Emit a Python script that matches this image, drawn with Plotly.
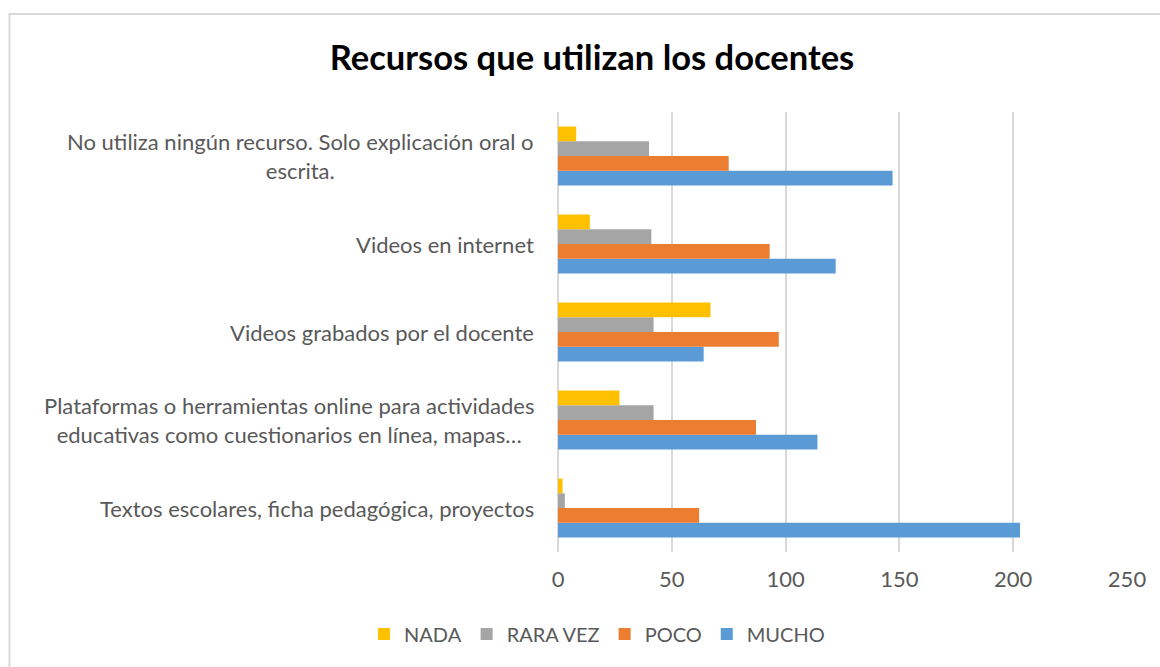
import plotly.graph_objects as go

categories = [
    "Textos escolares, ficha pedagógica, proyectos",
    "Plataformas o herramientas online para actividades<br>educativas como cuestionarios en línea, mapas…",
    "Videos grabados por el docente",
    "Videos en internet",
    "No utiliza ningún recurso. Solo explicación oral o<br>escrita.",
]
series_names = ["MUCHO", "POCO", "RARA VEZ", "NADA"]
mucho = [203, 114, 64, 122, 147]
poco = [62, 87, 97, 93, 75]
rara_vez = [3, 42, 42, 41, 40]
nada = [2, 27, 67, 14, 8]
x_ticks = [0, 50, 100, 150, 200, 250]

colors = {"MUCHO": "#5B9BD5", "POCO": "#ED7D31", "RARA VEZ": "#A5A5A5", "NADA": "#FFC000"}
values = {"MUCHO": mucho, "POCO": poco, "RARA VEZ": rara_vez, "NADA": nada}

font_family = "Lato, 'Open Sans', sans-serif"
L, R, T, B = 558, 33, 112, 115
W, H = 1160, 667
pw, ph = W - L - R, H - T - B

fig = go.Figure()
for name in series_names:
    fig.add_trace(go.Bar(
        y=categories, x=values[name], name=name, orientation="h",
        marker=dict(color=colors[name], line=dict(width=0)),
    ))

for c in categories:
    fig.add_annotation(
        x=0, xref="paper", xanchor="right", xshift=-22,
        y=c, yref="y", yanchor="middle", text=c, showarrow=False,
        align="center", font=dict(family=font_family, size=22, color="#595959"),
    )

fig.update_layout(
    width=W, height=H,
    barmode="group", bargap=0.33, bargroupgap=0,
    plot_bgcolor="white", paper_bgcolor="white",
    margin=dict(l=L, r=R, t=T, b=B, autoexpand=False),
    title=dict(text="<b>Recursos que utilizan los docentes</b>", x=592 / W, xref="container",
               xanchor="center", y=1 - 58 / H, yanchor="middle",
               font=dict(family=font_family, size=34.5, color="#000000")),
    legend=dict(orientation="h", traceorder="reversed", x=364 / W, xref="container",
                xanchor="left", y=1 - 634 / H, yref="container", yanchor="middle",
                font=dict(family=font_family, size=20, color="#595959"),
                itemwidth=30, tracegroupgap=0),
    xaxis=dict(range=[0, 250], tickvals=x_ticks, showgrid=True, gridcolor="#D9D9D9",
               gridwidth=1.5, zeroline=True, zerolinecolor="#D9D9D9", zerolinewidth=1.5,
               ticks="", tickfont=dict(family=font_family, size=22, color="#595959"),
               ticklabelstandoff=12, showline=False),
    yaxis=dict(showticklabels=False, showgrid=False, zeroline=False, showline=False),
    showlegend=True,
)

fig.add_shape(type="rect", xref="paper", yref="paper",
              x0=(9.5 - L) / pw, x1=(W + 10 - L) / pw,
              y0=(H - B - (H + 10)) / ph, y1=(H - B - 14) / ph,
              line=dict(color="#D9D9D9", width=2), fillcolor="rgba(0,0,0,0)", layer="below")

fig.write_html("out.html", config={"displayModeBar": False},
               post_script="document.body.style.margin='0';")
